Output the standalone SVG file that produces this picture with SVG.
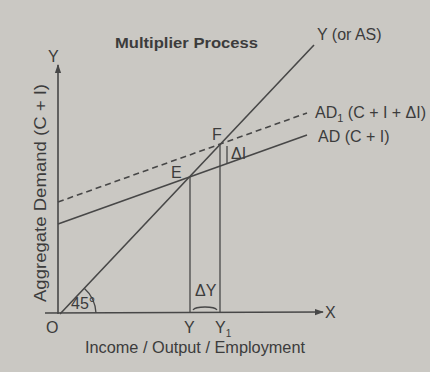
<svg xmlns="http://www.w3.org/2000/svg" width="430" height="372" viewBox="0 0 430 372">
<style>
.bg{fill:#cac8c3}
.ln{stroke:#474747;stroke-width:1.6;fill:none}
.th{stroke:#474747;stroke-width:1.3;fill:none}
.dash{stroke:#474747;stroke-width:1.6;fill:none;stroke-dasharray:6 4}
text{font-family:"Liberation Sans",Arial,sans-serif;fill:#3c3c3c;font-size:16px}
.title{font-weight:bold;font-size:15px}
</style>
<defs>
<marker id="arr" viewBox="0 0 10 10" refX="9" refY="5" markerWidth="9" markerHeight="9" markerUnits="userSpaceOnUse" orient="auto">
<path d="M0,1.5 L10,5 L0,8.5 Z" fill="#474747"/>
</marker>
</defs>
<rect class="bg" x="0" y="0" width="430" height="372"/>
<text class="title" x="115" y="48" textLength="143" lengthAdjust="spacingAndGlyphs">Multiplier Process</text>
<g id="axes">
<line class="ln" x1="58" y1="314" x2="58" y2="65" marker-end="url(#arr)"/>
<line class="ln" x1="45" y1="313" x2="323" y2="312" marker-end="url(#arr)"/>
<text x="48" y="62">Y</text>
<text x="325" y="318">X</text>
<text x="46" y="333">O</text>
<text transform="translate(46,302) rotate(-90)" textLength="218" lengthAdjust="spacingAndGlyphs">Aggregate Demand (C + I)</text>
<text x="85" y="353" textLength="220" lengthAdjust="spacingAndGlyphs">Income / Output / Employment</text>
</g>
<g id="connectors">
<line id="as-line" class="ln" x1="60" y1="314" x2="314" y2="45"/>
<line id="ad-line" class="ln" x1="58" y1="224" x2="307" y2="135"/>
<line id="ad1-line" class="dash" x1="58" y1="202" x2="307" y2="113"/>
<line class="th" x1="190" y1="177" x2="190" y2="313"/>
<line class="th" x1="220" y1="144" x2="220" y2="313"/>
<line class="th" x1="227" y1="146" x2="227" y2="164"/>
<path class="th" d="M193,310 Q195,307 205,307 Q215,307 217,310"/>
<path class="th" d="M96,313 A36,36 0 0 0 84,288"/>
</g>
<g id="as-label"><text x="317" y="40">Y (or AS)</text></g>
<g id="ad1-label"><text x="315" y="118">AD<tspan font-size="11" dy="4">1</tspan><tspan dy="-4"> (C + I + ΔI)</tspan></text></g>
<g id="ad-label"><text x="318" y="142">AD (C + I)</text></g>
<g id="point-e"><text x="171" y="178">E</text></g>
<g id="point-f"><text x="212" y="140">F</text></g>
<g id="delta-i"><text x="231" y="159" font-size="14">ΔI</text></g>
<g id="delta-y"><text x="195" y="296" font-size="14">ΔY</text></g>
<g id="angle"><text x="71" y="309" font-size="13">45°</text></g>
<g id="y-label"><text x="184" y="333">Y</text></g>
<g id="y1-label"><text x="215" y="333">Y<tspan font-size="10" dy="4">1</tspan></text></g>
</svg>
